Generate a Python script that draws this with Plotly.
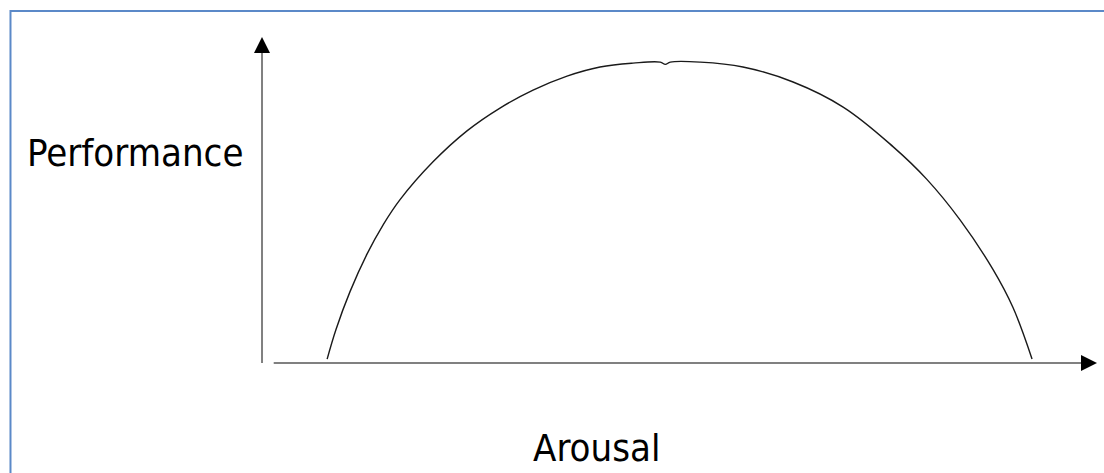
import plotly.graph_objects as go

# arousal vs performance (inverted U)
arousal = [0.78, 0.886, 1.054, 1.257, 1.449, 1.653, 2.048, 2.455, 2.85, 3.246, 3.653,
           4.048, 4.443, 4.77, 4.83, 4.89, 5.25, 5.76, 6.36, 6.96, 7.56, 7.96, 8.36,
           8.754, 8.994, 9.222]
performance = [0.12, 1.03, 2.19, 3.34, 4.23, 5.01, 6.17, 7.12, 7.82, 8.37, 8.80,
               9.08, 9.20, 9.23, 9.16, 9.23, 9.23, 9.08, 8.62, 7.85, 6.63, 5.64, 4.39,
               2.87, 1.70, 0.12]

x_label = "Arousal"
y_label = "Performance"
axis_max = 10

fig = go.Figure()
fig.add_trace(go.Scatter(x=arousal, y=performance, mode="lines",
                         line=dict(color="#1a1a1a", width=1.4, shape="spline", smoothing=1.1),
                         hoverinfo="skip", showlegend=False))

# axes drawn as gray lines with black arrow heads
fig.add_shape(type="line", x0=0, y0=0, x1=0, y1=axis_max - 0.4,
              line=dict(color="#808080", width=2))
fig.add_shape(type="line", x0=0.14, y0=0, x1=axis_max - 0.15, y1=0,
              line=dict(color="#808080", width=2))
fig.add_annotation(x=0, y=axis_max, ax=0, ay=axis_max - 0.45, xref="x", yref="y",
                   axref="x", ayref="y", showarrow=True, arrowhead=2, arrowsize=1.6,
                   arrowwidth=2, arrowcolor="black", text="")
fig.add_annotation(x=axis_max, y=0, ax=axis_max - 0.2, ay=0, xref="x", yref="y",
                   axref="x", ayref="y", showarrow=True, arrowhead=2, arrowsize=1.6,
                   arrowwidth=2, arrowcolor="black", text="")

label_font = dict(family="DejaVu Sans Condensed, DejaVu Sans", size=38, color="black")
fig.add_annotation(text=y_label, xref="paper", yref="paper", x=0.1223, y=0.6765,
                   xanchor="center", yanchor="middle", showarrow=False, font=label_font)
fig.add_annotation(text=x_label, xref="paper", yref="paper", x=0.54, y=0.052,
                   xanchor="center", yanchor="middle", showarrow=False, font=label_font)

# blue frame round the picture
fig.add_shape(type="rect", xref="paper", yref="paper", x0=0.0095, y0=-0.05,
              x1=1.05, y1=1 - 11 / 473, line=dict(color="#5b89c8", width=2))

fig.update_xaxes(range=[-3.138, 10.084], visible=False)
fig.update_yaxes(range=[-3.374, 11.135], visible=False)
fig.update_layout(width=1104, height=473, margin=dict(l=0, r=0, t=0, b=0),
                  plot_bgcolor="white", paper_bgcolor="white")

fig.write_html("out.html", config={"displayModeBar": False},
               post_script="document.body.style.margin='0';document.body.style.overflow='hidden';")
